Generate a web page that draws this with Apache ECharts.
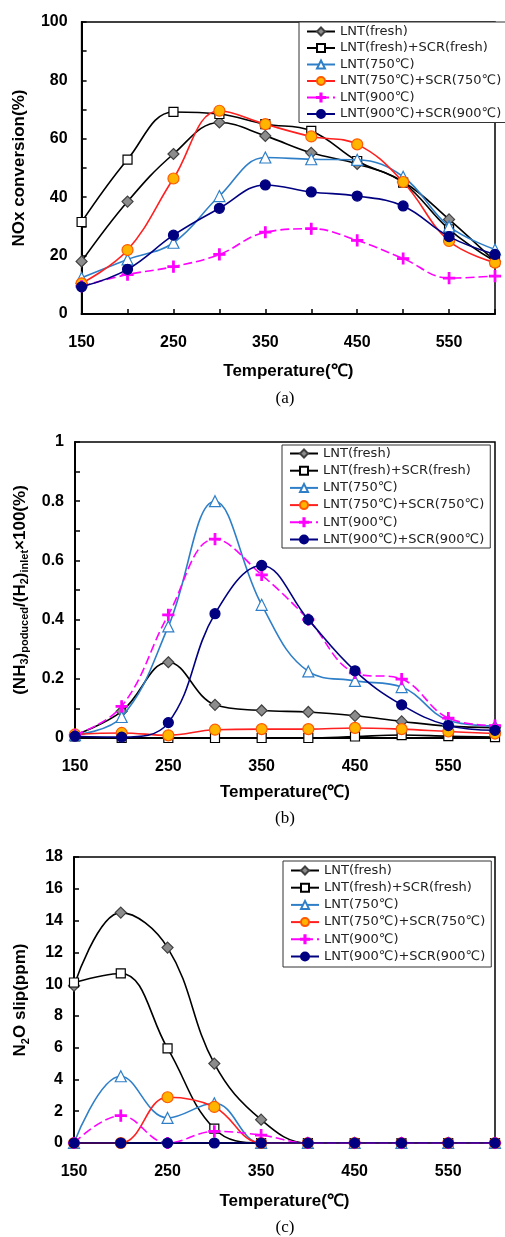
<!DOCTYPE html>
<html><head><meta charset="utf-8">
<script src="https://cdn.jsdelivr.net/npm/echarts@6/dist/echarts.min.js"></script>
<style>html,body{margin:0;padding:0;background:#fff}#c{width:505px;height:1237px}</style>
</head><body><div id="c"></div>
<script>
const temps = [150, 200, 250, 300, 350, 400, 450, 500, 550, 600];
const seriesNames = ['LNT(fresh)', 'LNT(fresh)+SCR(fresh)', 'LNT(750℃)', 'LNT(750℃)+SCR(750℃)', 'LNT(900℃)', 'LNT(900℃)+SCR(900℃)'];

// (a) NOx conversion (%)
const noxFresh     = [18, 38.5, 54.8, 65.6, 61, 55.2, 51.4, 45.3, 32.4, 18];
const noxFreshScr  = [31.5, 52.9, 69.2, 68.5, 65, 62.7, 52.4, 45, 29, 18];
const nox750       = [12.4, 18.7, 24.4, 40.4, 53.6, 53, 52.8, 47, 30, 22.1];
const nox750Scr    = [10.5, 21.9, 46.4, 69.6, 65, 60.8, 58.1, 45.2, 25, 17.6];
const nox900       = [9.5, 13.5, 16.2, 20.4, 28, 29.2, 25.2, 19, 12.3, 13];
const nox900Scr    = [9.3, 15.3, 27, 36.2, 44.2, 41.8, 40.4, 37, 26.5, 20.4];

// (b) NH3 produced / H2 inlet x100 (%)
const nh3Fresh     = [0.01, 0.09, 0.256, 0.112, 0.093, 0.088, 0.075, 0.056, 0.04, 0.035];
const nh3FreshScr  = [0.005, 0, 0, 0, 0, 0, 0.005, 0.01, 0.006, 0.003];
const nh3750       = [0.01, 0.071, 0.377, 0.80, 0.45, 0.225, 0.193, 0.172, 0.06, 0.04];
const nh3750Scr    = [0.012, 0.017, 0.009, 0.028, 0.03, 0.03, 0.034, 0.03, 0.022, 0.015];
const nh3900       = [0.01, 0.107, 0.416, 0.672, 0.551, 0.40, 0.22, 0.199, 0.067, 0.042];
const nh3900Scr    = [0.006, 0.003, 0.052, 0.42, 0.583, 0.40, 0.227, 0.112, 0.042, 0.026];

// (c) N2O slip (ppm)
const n2oFresh     = [9.9, 14.5, 12.3, 5.0, 1.47, 0, 0, 0, 0, 0];
const n2oFreshScr  = [10.1, 10.67, 5.96, 0.9, 0, 0, 0, 0, 0, 0];
const n2o750       = [0, 4.2, 1.58, 2.5, 0, 0, 0, 0, 0, 0];
const n2o750Scr    = [0, 0, 2.88, 2.27, 0, 0, 0, 0, 0, 0];
const n2o900       = [0, 1.72, 0, 0.73, 0.5, 0, 0, 0, 0, 0];
const n2o900Scr    = [0, 0, 0, 0, 0, 0, 0, 0, 0, 0];

const xLabelTicks = [150, 250, 350, 450, 550];
const panelLabels = ['(a)', '(b)', '(c)'];

const PLUS = 'path://M4.3,0 L5.7,0 L5.7,4.3 L10,4.3 L10,5.7 L5.7,5.7 L5.7,10 L4.3,10 L4.3,5.7 L0,5.7 L0,4.3 L4.3,4.3 Z';
const styles = [
  {line: '#000000', width: 1.6, symbol: 'diamond', size: 11, fill: '#8c8c8c', border: '#404040', type: 'solid'},
  {line: '#000000', width: 1.6, symbol: 'rect', size: 9, fill: '#ffffff', border: '#000000', type: 'solid'},
  {line: '#2f7fc8', width: 1.6, symbol: 'triangle', size: 11, fill: '#ffffff', border: '#2f7fc8', type: 'solid'},
  {line: '#ff2020', width: 1.6, symbol: 'circle', size: 11, fill: '#ffb400', border: '#ff5a00', type: 'solid'},
  {line: '#ff00ff', width: 1.6, symbol: PLUS, size: 11, fill: '#ff00ff', border: '#ff00ff', type: [9, 4]},
  {line: '#000080', width: 1.6, symbol: 'circle', size: 10, fill: '#000080', border: '#000080', type: 'solid'}
];

const panels = [
  [noxFresh, noxFreshScr, nox750, nox750Scr, nox900, nox900Scr],
  [nh3Fresh, nh3FreshScr, nh3750, nh3750Scr, nh3900, nh3900Scr],
  [n2oFresh, n2oFreshScr, n2o750, n2o750Scr, n2o900, n2o900Scr]
];

const grids = [
  {left: 76, top: 22, width: 419, height: 292},
  {left: 75, top: 442, width: 420, height: 296},
  {left: 74, top: 857, width: 421, height: 286}
];

const labelFont = {fontFamily: 'Liberation Sans, Arial, sans-serif', fontWeight: 'bold', fontSize: 16, color: '#000'};
const nameFont = {fontFamily: 'Liberation Sans, Arial, sans-serif', fontWeight: 'bold', fontSize: 17, color: '#000', lineHeight: 22,
  rich: {s: {fontFamily: 'Liberation Sans, Arial, sans-serif', fontWeight: 'bold', fontSize: 11, color: '#000', lineHeight: 10, verticalAlign: 'bottom'}}};

const xAxes = grids.map((g, i) => ({
  type: 'value', gridIndex: i, min: 150, max: 600, interval: 50,
  name: 'Temperature(℃)', nameLocation: 'middle', nameGap: [46, 43, 47][i],
  nameTextStyle: nameFont,
  axisLine: {show: true, lineStyle: {color: '#000', width: 2}},
  axisTick: {show: true, inside: true, length: 5, lineStyle: {color: '#000', width: 1.5}},
  axisLabel: Object.assign({margin: 21, formatter: v => xLabelTicks.includes(Math.round(v)) ? String(Math.round(v)) : ''}, labelFont),
  splitLine: {show: false}
}));

const yAxes = [
  {type: 'value', gridIndex: 0, min: 0, max: 100, interval: 10,
   name: 'NOx conversion(%)', nameGap: 45,
   axisLabel: Object.assign({margin: 14, formatter: v => (Math.round(v) % 20 === 0) ? String(Math.round(v)) : ''}, labelFont)},
  {type: 'value', gridIndex: 1, min: 0, max: 1, interval: 0.1,
   name: '(NH{s|3}){s|poduced}/(H{s|2}){s|inlet}×100(%)', nameGap: 43,
   axisLabel: Object.assign({margin: 11, formatter: v => { const k = Math.round(v * 10); return k % 2 === 0 ? String(k / 10) : ''; }}, labelFont)},
  {type: 'value', gridIndex: 2, min: 0, max: 18, interval: 2,
   name: 'N{s|2}O slip(ppm)', nameGap: 43,
   axisLabel: Object.assign({margin: 11}, labelFont)}
].map(a => Object.assign(a, {
  nameLocation: 'middle', nameTextStyle: nameFont,
  axisLine: {show: true, lineStyle: {color: '#000', width: 2}},
  axisTick: {show: true, inside: true, length: 5, lineStyle: {color: '#000', width: 1.5}},
  splitLine: {show: false}
}));

const series = [];
panels.forEach((p, gi) => {
  p.forEach((vals, si) => {
    const st = styles[si];
    series.push({
      name: seriesNames[si], type: 'line', xAxisIndex: gi, yAxisIndex: gi,
      data: temps.map((t, k) => [t, vals[k]]),
      smooth: 0.4, symbol: st.symbol, symbolSize: st.size, showSymbol: true,
      lineStyle: {color: st.line, width: st.width, type: st.type},
      itemStyle: {color: st.fill, borderColor: st.border, borderWidth: 1.2},
      z: 2 + si, clip: true
    });
  });
});

const legendText = {fontFamily: 'DejaVu Sans, sans-serif', fontSize: 13, color: '#222', lineHeight: 13};
const legendBase = {
  orient: 'vertical', itemWidth: 28, itemHeight: 10,
  borderColor: '#333', borderWidth: 1, backgroundColor: '#fff',
  textStyle: legendText,
  data: seriesNames, selectedMode: false, z: 10
};
const legends = [
  Object.assign({}, legendBase, {left: 299, top: 22, itemGap: 3.5, padding: [3, 8, 2, 7]}),
  Object.assign({}, legendBase, {left: 282, top: 445, itemGap: 4.2, padding: [2, 6, 2, 7]}),
  Object.assign({}, legendBase, {left: 283, top: 861, itemGap: 4.2, padding: [3, 6, 4, 7]})
];

const panelY = [399, 819, 1228];
const graphic = panelLabels.map((t, i) => ({
  type: 'text', x: 285, y: panelY[i],
  style: {text: t, align: 'center', verticalAlign: 'middle', font: '17px "Liberation Serif", "Times New Roman", serif', fill: '#000'}
}));

const chart = echarts.init(document.getElementById('c'), null, {renderer: 'canvas'});
chart.setOption({
  animation: false,
  backgroundColor: '#fff',
  grid: grids.map(g => Object.assign({show: true, borderColor: '#000', borderWidth: 1.5, backgroundColor: 'transparent', containLabel: false}, g)),
  xAxis: xAxes,
  yAxis: yAxes,
  legend: legends,
  series: series,
  graphic: graphic
});
</script></body></html>
